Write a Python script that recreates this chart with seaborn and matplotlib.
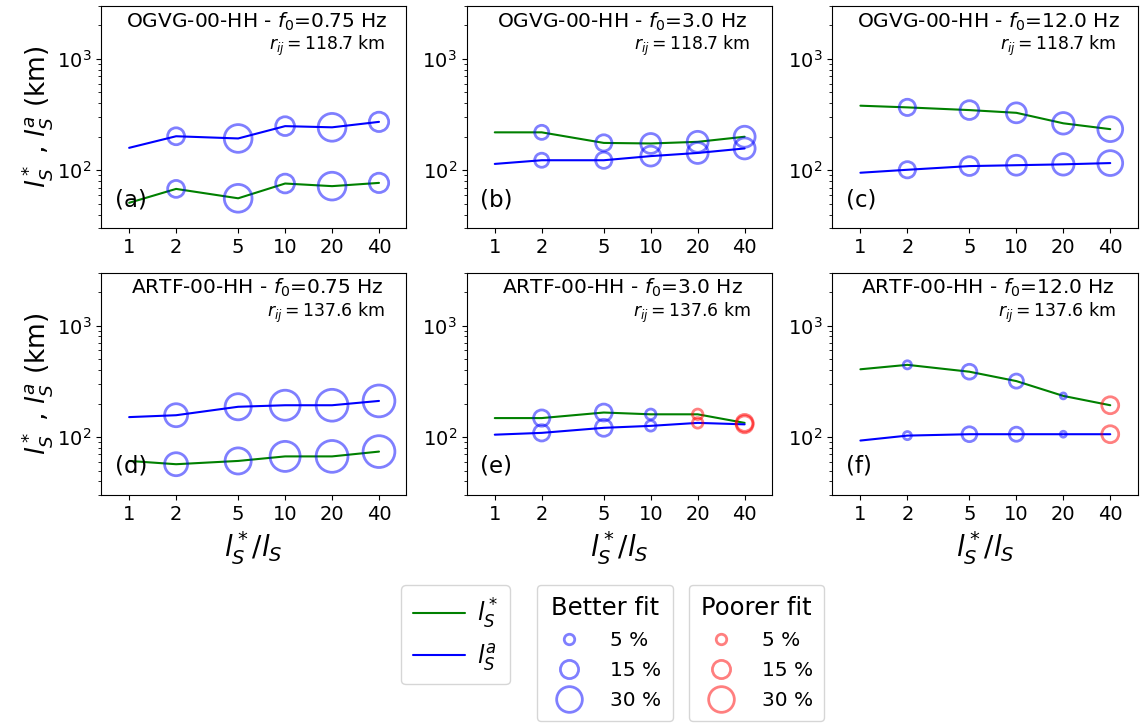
import numpy as np
import pandas as pd
import seaborn as sns
import matplotlib
matplotlib.use("Agg")
import matplotlib.pyplot as plt
from matplotlib.lines import Line2D
from matplotlib.ticker import FixedLocator, NullLocator, NullFormatter

# data
ratios = [1, 2, 5, 10, 20, 40]
circle_ratios = [2, 5, 10, 20, 40]

panels = ["a", "b", "c", "d", "e", "f"]
stations = ["OGVG-00-HH", "OGVG-00-HH", "OGVG-00-HH", "ARTF-00-HH", "ARTF-00-HH", "ARTF-00-HH"]
freqs = ["0.75", "3.0", "12.0", "0.75", "3.0", "12.0"]
distances = ["118.7", "118.7", "118.7", "137.6", "137.6", "137.6"]

ls_star = [
    [51, 68, 56, 76, 72, 77],
    [219, 219, 176, 174, 180, 200],
    [380, 367, 347, 328, 264, 234],
    [61, 57, 61, 67, 67, 74],
    [148, 148, 166, 160, 160, 134],
    [406, 445, 386, 318, 234, 193],
]
ls_a = [
    [159, 202, 193, 249, 243, 272],
    [114, 123, 123, 134, 143, 157],
    [95, 101, 109, 111, 113, 116],
    [151, 157, 187, 193, 193, 211],
    [105, 109, 121, 126, 134, 130],
    [93, 103, 106, 106, 106, 106],
]
# misfit change (%) at each ratio, and whether the fit improved
pct = [
    [13, 35, 16, 35, 17],
    [9, 12, 18, 20, 20],
    [12, 16, 18, 21, 28],
    [24, 31, 41, 46, 46],
    [12, 13, 5, 5, 13],
    [3, 10, 9, 1.6, 13],
]
fit = [
    ["better"] * 5,
    ["better"] * 5,
    ["better"] * 5,
    ["better"] * 5,
    ["better", "better", "better", "poorer", "poorer"],
    ["better", "better", "better", "better", "poorer"],
]

legend_pcts = [5, 15, 30]

K = 11.4  # points^2 per percent

rows = []
for i, p in enumerate(panels):
    for j, r in enumerate(ratios):
        rows.append({"panel": p, "ratio": r, "curve": "star", "value": ls_star[i][j]})
        rows.append({"panel": p, "ratio": r, "curve": "a", "value": ls_a[i][j]})
lines_df = pd.DataFrame(rows)

rows = []
for i, p in enumerate(panels):
    for j, r in enumerate(circle_ratios):
        for curve, vals in (("star", ls_star[i]), ("a", ls_a[i])):
            rows.append({"panel": p, "ratio": r, "value": vals[j + 1],
                         "pct": pct[i][j], "fit": fit[i][j]})
circ_df = pd.DataFrame(rows)

sns.set_style("ticks", rc={"axes.edgecolor": "black", "xtick.color": "black",
                           "ytick.color": "black", "text.color": "black",
                           "axes.labelcolor": "black"})
plt.rcParams["font.family"] = ["DejaVu Sans"]
plt.rcParams["mathtext.fontset"] = "dejavusans"

fig, axes = plt.subplots(2, 3, figsize=(11.4, 7.23), dpi=100)
fig.subplots_adjust(left=0.0886, right=0.998, top=0.992, bottom=0.315,
                    wspace=0.197, hspace=0.198)

line_pal = {"star": "green", "a": "blue"}
fit_pal = {"better": "blue", "poorer": "red"}

for i, ax in enumerate(axes.flat):
    p = panels[i]
    sns.lineplot(data=lines_df[lines_df.panel == p], x="ratio", y="value",
                 hue="curve", palette=line_pal, ax=ax, legend=False,
                 linewidth=1.5, estimator=None)
    sub = circ_df[circ_df.panel == p]
    sns.scatterplot(data=sub, x="ratio", y="value", hue="fit", palette=fit_pal,
                    size="pct", sizes=(0, 100 * K), size_norm=(0, 100),
                    ax=ax, legend=False, alpha=0.5, linewidth=2, zorder=3)
    coll = ax.collections[-1]
    coll.set_edgecolors(coll.get_facecolors())
    coll.set_facecolors("none")
    coll.set_linewidths(2)

    ax.set_xscale("log")
    ax.set_yscale("log")
    ax.set_xlim(0.66, 60)
    ax.set_ylim(30, 3000)
    ax.xaxis.set_major_locator(FixedLocator(ratios))
    ax.xaxis.set_minor_locator(NullLocator())
    ax.xaxis.set_minor_formatter(NullFormatter())
    ax.set_xticklabels([str(r) for r in ratios])
    ax.tick_params(axis="both", which="major", labelsize=14)

    ax.text(0.51, 0.93, stations[i] + " - $f_0$=" + freqs[i] + " Hz",
            transform=ax.transAxes, ha="center", va="center", fontsize=14.5)
    ax.text(0.93, 0.82, "$r_{ij} = $" + distances[i] + " km",
            transform=ax.transAxes, ha="right", va="center", fontsize=12.4)
    ax.text(0.045, 0.13, "(" + p + ")", transform=ax.transAxes,
            ha="left", va="center", fontsize=16.5)

    if i % 3 == 0:
        ax.set_ylabel("$l_S^*$ , $l_S^a$ (km)", fontsize=19, labelpad=1)
    else:
        ax.set_ylabel("")
    if i >= 3:
        ax.set_xlabel("$l_S^*/l_S$", fontsize=20)
    else:
        ax.set_xlabel("")

# legends
line_handles = [Line2D([], [], color="green", lw=1.5), Line2D([], [], color="blue", lw=1.5)]
leg1 = fig.legend(line_handles, ["$l_S^*$", "$l_S^a$"], loc="upper left",
                  bbox_to_anchor=(0.352, 0.191), borderaxespad=0, fontsize=17,
                  handlelength=2.2, handletextpad=0.5, labelspacing=0.45,
                  borderpad=0.5)


def circle_handles(color):
    return [Line2D([], [], ls="none", marker="o", markersize=np.sqrt(K * v),
                   markerfacecolor="none", markeredgecolor=color,
                   markeredgewidth=2, alpha=0.5) for v in legend_pcts]


labels = [f"{v} %" for v in legend_pcts]
leg2 = fig.legend(circle_handles("blue"), labels, title="Better fit",
                  loc="upper left", bbox_to_anchor=(0.471, 0.191),
                  borderaxespad=0, fontsize=14.5, title_fontsize=17.5,
                  labelspacing=0.55, handlelength=2.1, handletextpad=1.0,
                  borderpad=0.55)
leg3 = fig.legend(circle_handles("red"), labels, title="Poorer fit",
                  loc="upper left", bbox_to_anchor=(0.604, 0.191),
                  borderaxespad=0, fontsize=14.5, title_fontsize=17.5,
                  labelspacing=0.55, handlelength=2.1, handletextpad=1.0,
                  borderpad=0.55)

fig.savefig("out.png", dpi=100)
